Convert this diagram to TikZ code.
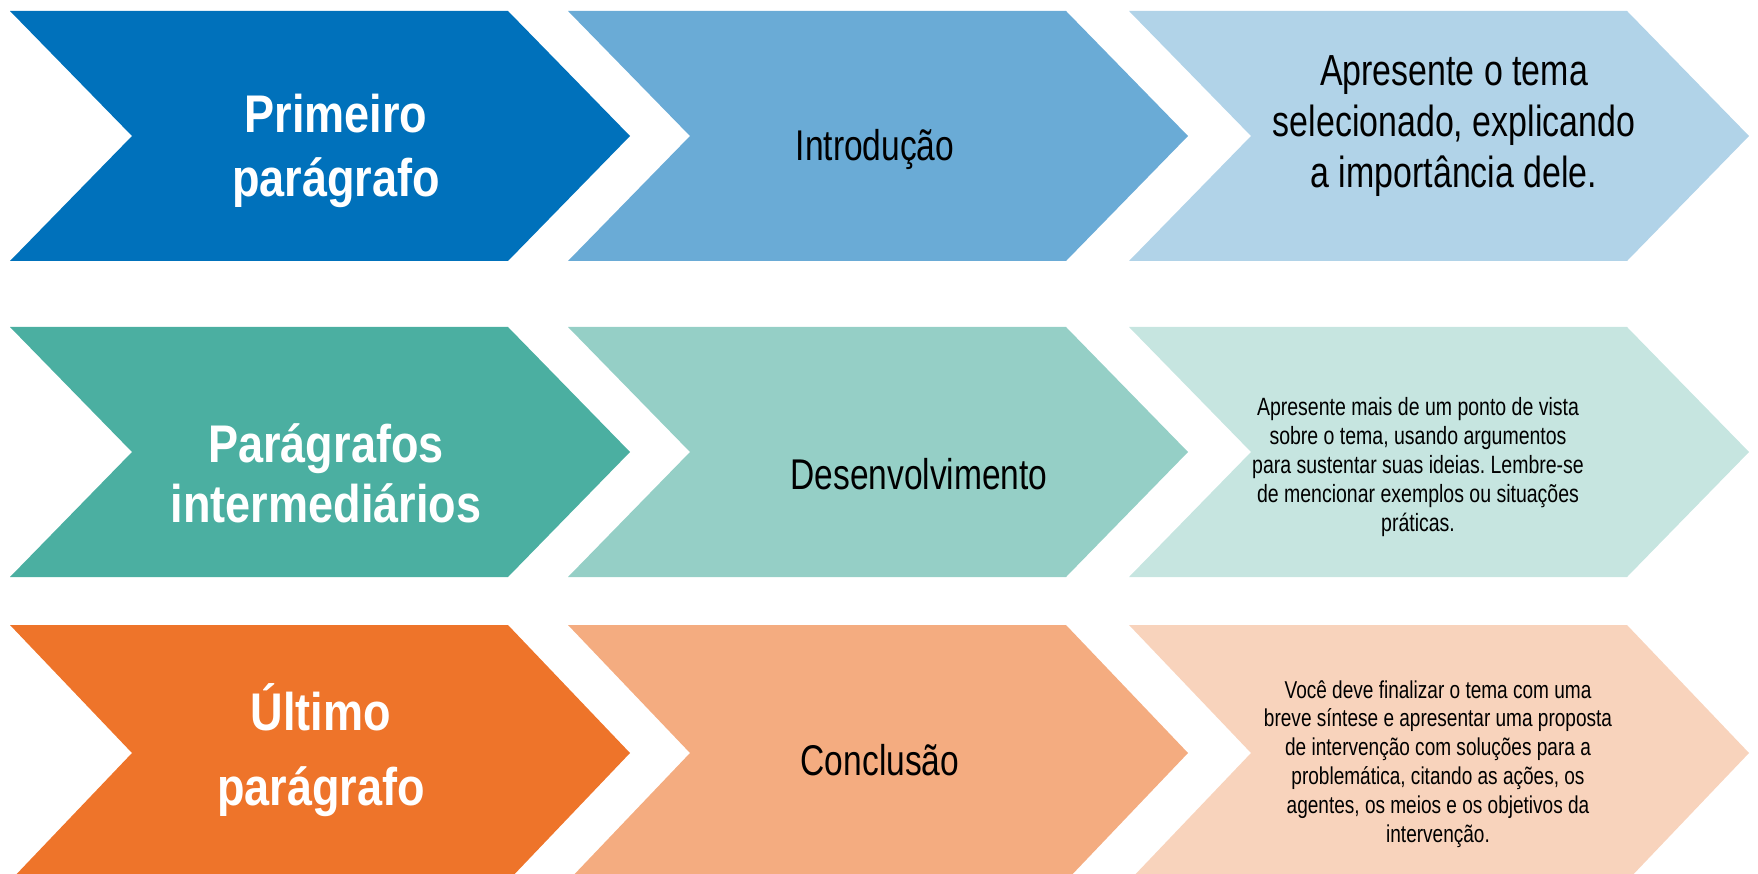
\documentclass[tikz,border=0pt]{standalone}
\usepackage{fontspec}
\setmainfont{Liberation Sans}[FakeStretch=0.78]
\newfontfamily\headfont{Liberation Sans}[FakeStretch=0.85]
\frenchspacing

\definecolor{blueA}{HTML}{0071BB}
\definecolor{blueB}{HTML}{6AABD6}
\definecolor{blueC}{HTML}{B1D3E8}
\definecolor{greenA}{HTML}{4BAFA1}
\definecolor{greenB}{HTML}{95CFC6}
\definecolor{greenC}{HTML}{C6E5E0}
\definecolor{orangeA}{HTML}{EE742A}
\definecolor{orangeB}{HTML}{F4AC80}
\definecolor{orangeC}{HTML}{F8D3BC}

% chevron: left x, centre y, half height, colour
\newcommand{\chevron}[4]{%
  \fill[#4] (#1,#2-#3) -- (#1+498,#2-#3) -- (#1+620,#2) -- (#1+498,#2+#3)
    -- (#1,#2+#3) -- (#1+122,#2) -- cycle;}

\tikzset{
  head/.style={text=white, align=center, inner sep=0pt, anchor=base,
    font=\headfont\bfseries\fontsize{53}{#1}\selectfont},
  midlabel/.style={inner sep=0pt, anchor=base, font=\fontsize{43}{51}\selectfont},
  bigtip/.style={align=center, inner sep=0pt, anchor=base, font=\fontsize{43.5}{51}\selectfont},
  smalltip/.style={align=center, inner sep=0pt, anchor=base, font=\fontsize{#1}{28.8}\selectfont}
}

\begin{document}
\begin{tikzpicture}[x=1pt,y=-1pt]
  \useasboundingbox (0,0) rectangle (1758,874);

  % first row
  \chevron{10}{136}{125}{blueA}
  \chevron{568}{136}{125}{blueB}
  \chevron{1129}{136}{125}{blueC}

  % second row
  \chevron{10}{452}{125}{greenA}
  \chevron{568}{452}{125}{greenB}
  \chevron{1129}{452}{125}{greenC}

  % third row
  \chevron{10}{753}{128}{orangeA}
  \chevron{568}{753}{128}{orangeB}
  \chevron{1129}{753}{128}{orangeC}

  % labels (base = last line)
  \node[head=64] (first) at (336,197) {Primeiro\\parágrafo};
  \node[head=60] (middle) at (326,522) {Parágrafos\\intermediários};
  \node[head=75] (last) at (321,805) {Último\\parágrafo};

  \node[midlabel] (intro) at (875,161) {Introdução};
  \node[midlabel] (devel) at (919,489) {Desenvolvimento};
  \node[midlabel] (concl) at (880,775) {Conclusão};

  \node[bigtip] (introtip) at (1454,188)
    {Apresente o tema\\selecionado, explicando\\a importância dele.};
  \node[smalltip=25] (develtip) at (1418,531)
    {Apresente mais de um ponto de vista\\sobre o tema, usando argumentos\\para sustentar suas ideias. Lembre-se\\de mencionar exemplos ou situações\\práticas.};
  \node[smalltip=24.4] (conctip) at (1438,842)
    {Você deve finalizar o tema com uma\\breve síntese e apresentar uma proposta\\de intervenção com soluções para a\\problemática, citando as ações, os\\agentes, os meios e os objetivos da\\intervenção.};
\end{tikzpicture}
\end{document}
